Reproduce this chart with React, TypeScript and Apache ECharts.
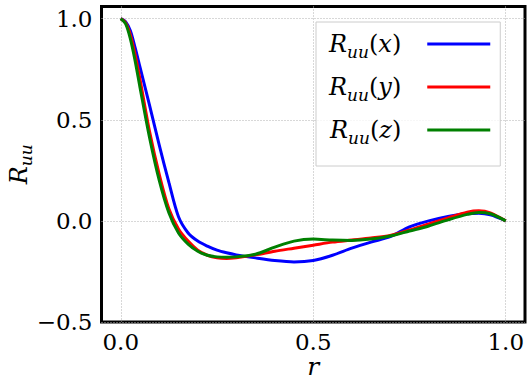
import React, { useEffect, useRef } from "react";
import * as echarts from "echarts";

const rValues = [0, 0.0125, 0.025, 0.0375, 0.05, 0.075, 0.1, 0.125, 0.15, 0.175, 0.2, 0.225, 0.25, 0.275, 0.3, 0.35, 0.4, 0.45, 0.5, 0.55, 0.6, 0.65, 0.7, 0.75, 0.8, 0.85, 0.9, 0.93, 0.96, 1.0];
const ruuX = [1.0, 0.985, 0.94, 0.855, 0.76, 0.57, 0.375, 0.19, 0.02, -0.06, -0.1, -0.125, -0.145, -0.158, -0.168, -0.183, -0.196, -0.203, -0.196, -0.17, -0.135, -0.105, -0.078, -0.03, 0.0, 0.022, 0.035, 0.038, 0.03, 0.0];
const ruuY = [1.0, 0.98, 0.92, 0.82, 0.7, 0.44, 0.23, 0.06, -0.04, -0.1, -0.145, -0.17, -0.183, -0.186, -0.182, -0.168, -0.15, -0.135, -0.12, -0.105, -0.095, -0.085, -0.072, -0.045, -0.015, 0.015, 0.043, 0.05, 0.04, 0.0];
const ruuZ = [1.0, 0.975, 0.9, 0.79, 0.66, 0.41, 0.2, 0.04, -0.06, -0.115, -0.15, -0.17, -0.178, -0.18, -0.178, -0.165, -0.13, -0.1, -0.09, -0.095, -0.097, -0.09, -0.075, -0.05, -0.025, 0.005, 0.032, 0.042, 0.035, 0.0];
const components = ["x", "y", "z"];
const colors = ["#0000ff", "#ff0000", "#008000"];
const xTicks = [0, 0.5, 1.0];
const yTicks = [-0.5, 0, 0.5, 1.0];

const FONT = "DejaVu Serif";

const richStyles = {
  i: { fontFamily: FONT, fontStyle: "italic", fontSize: 24, lineHeight: 32, color: "#000", verticalAlign: "middle" },
  s: { fontFamily: FONT, fontStyle: "italic", fontSize: 17, lineHeight: 14, color: "#000", verticalAlign: "bottom" },
  n: { fontFamily: FONT, fontSize: 24, lineHeight: 32, color: "#000", verticalAlign: "middle" },
  e: { fontFamily: FONT, fontSize: 24, lineHeight: 32, color: "#000", verticalAlign: "middle", padding: [0, 21, 0, 0] },
};

export default function App() {
  const ref = useRef<HTMLDivElement>(null);
  useEffect(() => {
    if (!ref.current) return;
    const chart = echarts.init(ref.current, null, { renderer: "svg" });
    const seriesData = [ruuX, ruuY, ruuZ];
    const fmt = (v: number) => (v < 0 ? "\u2212" + Math.abs(v).toFixed(1) : v.toFixed(1));
    chart.setOption({
      animation: false,
      backgroundColor: "#fff",
      textStyle: { fontFamily: FONT },
      grid: {
        left: 101.5,
        right: 7,
        top: 6.5,
        bottom: 69,
        show: true,
        borderColor: "#000",
        borderWidth: 3,
        backgroundColor: "transparent",
        containLabel: false,
        outerBoundsMode: "none",
      },
      xAxis: {
        type: "value",
        min: -0.05,
        max: 1.05,
        name: "r",
        nameLocation: "middle",
        nameGap: 32,
        nameMoveOverlap: false,
        nameTextStyle: { fontFamily: FONT, fontStyle: "italic", fontSize: 25, color: "#000" },
        axisLine: { show: false },
        axisTick: { show: false, customValues: xTicks },
        axisLabel: {
          customValues: xTicks,
          formatter: fmt,
          fontFamily: FONT,
          fontSize: 23,
          color: "#000",
          margin: 8,
        },
        splitLine: { show: true, lineStyle: { color: "#b0b0b0", type: [1, 2], width: 1 } },
      },
      yAxis: {
        type: "value",
        min: -0.5,
        max: 1.06,
        name: "{i|R}{s|uu}",
        nameLocation: "middle",
        nameRotate: 90,
        nameGap: 67,
        nameMoveOverlap: false,
        nameTextStyle: { rich: richStyles },
        axisLine: { show: false },
        axisTick: { show: false, customValues: yTicks },
        axisLabel: {
          customValues: yTicks,
          formatter: fmt,
          fontFamily: FONT,
          fontSize: 23,
          color: "#000",
          margin: 9,
        },
        splitLine: { show: true, lineStyle: { color: "#b0b0b0", type: [1, 2], width: 1 } },
      },
      legend: {
        orient: "vertical",
        left: 316,
        top: 22,
        align: "right",
        icon: "rect",
        itemWidth: 63,
        itemHeight: 3,
        itemGap: 15,
        padding: [10, 10, 20, 13],
        backgroundColor: "rgba(255,255,255,0.8)",
        borderColor: "#cccccc",
        borderWidth: 1,
        borderRadius: 0,
        data: components,
        formatter: (name: string) => `{i|R}{s|uu}{n|(}{i|${name}}{e|)}`,
        textStyle: { rich: richStyles },
      },
      series: components.map((c, k) => ({
        name: c,
        type: "line",
        data: rValues.map((r, j) => [r, seriesData[k][j]]),
        showSymbol: false,
        smooth: 0.3,
        lineStyle: { color: colors[k], width: 3 },
        itemStyle: { color: colors[k] },
        z: 2 + k,
      })),
    });
    return () => chart.dispose();
  }, []);
  return <div ref={ref} style={{ position: "absolute", left: 0, top: 0, width: 532, height: 391 }} />;
}
